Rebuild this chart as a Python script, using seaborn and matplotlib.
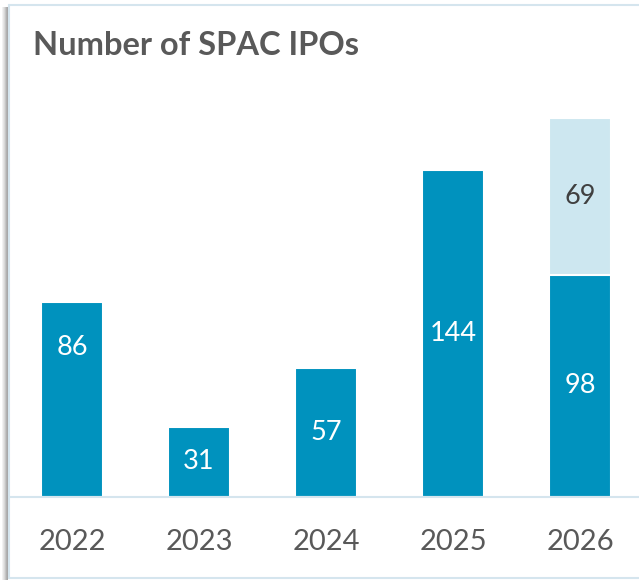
import numpy as np
import pandas as pd
import matplotlib
matplotlib.use("Agg")
import matplotlib.pyplot as plt
import seaborn as sns
from matplotlib.patches import Rectangle

# datos
years = ["2022", "2023", "2024", "2025", "2026"]
base = [86, 31, 57, 144, 98]
extra = [0, 0, 0, 0, 69]

azul = "#0092BE"
celeste = "#CDE7F0"
gris = "#595959"
borde = "#D5E5EE"

sns.set_style("white")
plt.rcParams["font.family"] = ["Lato", "DejaVu Sans"]

df = pd.DataFrame({"year": years, "base": base, "extra": extra})
df["total"] = df["base"] + df["extra"]

fig = plt.figure(figsize=(6.39, 5.8), dpi=100)
ax = fig.add_axes([9 / 639, 83 / 580, 630 / 639, 492 / 580])

# barras apiladas: total en celeste, base en azul encima
sns.barplot(data=df, x="year", y="total", color=celeste, width=0.49,
            saturation=1, edgecolor="white", linewidth=1.5, ax=ax)
sns.barplot(data=df, x="year", y="base", color=azul, width=0.49,
            saturation=1, edgecolor="white", linewidth=1.5, ax=ax)

ax.set_xlim(-63 / 127, 567 / 127)
ax.set_ylim(0, 492 / 2.27)
ax.set_xlabel("")
ax.set_ylabel("")
ax.set_yticks([])
ax.tick_params(axis="x", length=0, pad=23, labelsize=21, labelcolor=gris)
for s in ["top", "right", "left"]:
    ax.spines[s].set_visible(False)
ax.spines["bottom"].set_color(borde)
ax.spines["bottom"].set_linewidth(1.5)

# etiquetas de valores
for i, (b, e) in enumerate(zip(base, extra)):
    yb = b / 2
    if i == 0:
        yb = 66  # en el original esta etiqueta va más arriba
    ax.text(i, yb, str(b), ha="center", va="center", color="white", fontsize=19.5)
    if e > 0:
        ax.text(i, b + e / 2, str(e), ha="center", va="center", color="#404040", fontsize=19.5)

# titulo
fig.text(33 / 639, (580 - 55) / 580, "Number of SPAC IPOs", ha="left", va="baseline",
         fontsize=23.5, fontweight="bold", color=gris)

# marco y sombra
for k, a in enumerate([0.10, 0.2, 0.3, 0.45, 0.6, 0.7]):
    fig.patches.append(Rectangle(((2 + k) / 639, 0), 1 / 639, 573 / 580,
                                 transform=fig.transFigure, color="#808080",
                                 alpha=a, lw=0))
fig.add_artist(plt.Line2D([9 / 639, 9 / 639], [2 / 580, 575 / 580], color=borde, lw=1.5))
fig.add_artist(plt.Line2D([9 / 639, 1], [575 / 580, 575 / 580], color=borde, lw=1.5))
fig.add_artist(plt.Line2D([9 / 639, 1], [2 / 580, 2 / 580], color=borde, lw=1.5))

fig.savefig("out.png", dpi=100)
